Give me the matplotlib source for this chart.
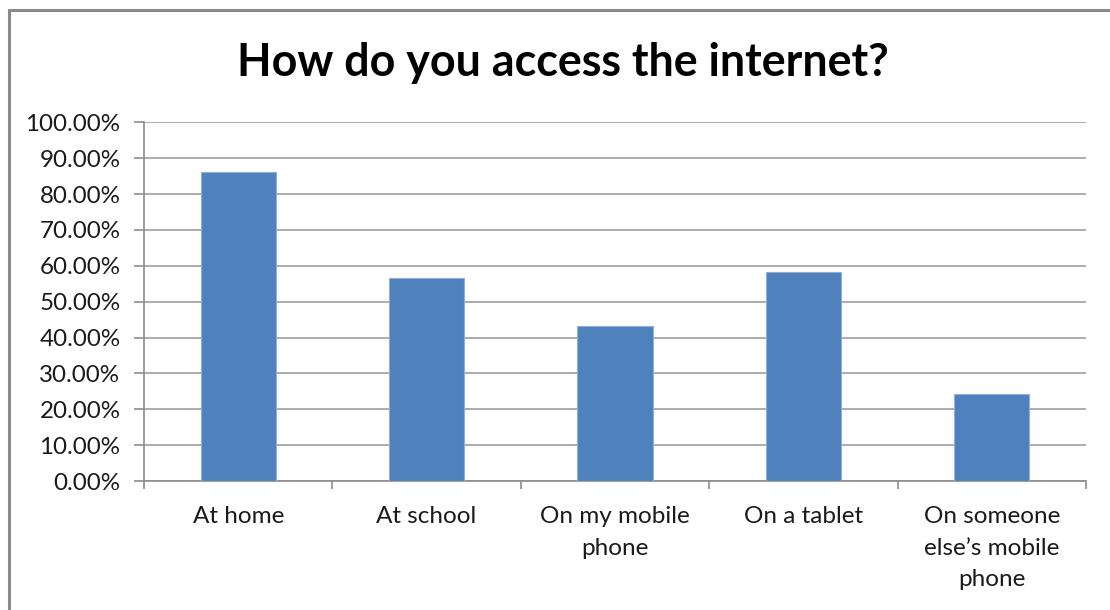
import matplotlib
matplotlib.use("Agg")
import matplotlib.pyplot as plt
from matplotlib.patches import Rectangle
from matplotlib.ticker import FuncFormatter, MultipleLocator

# Survey answers: share of respondents per access method
categories = ["At home", "At school", "On my mobile\nphone", "On a tablet",
              "On someone\nelse\u2019s mobile\nphone"]
shares = [86.2, 56.5, 43.3, 58.3, 24.2]
title = "How do you access the internet?"

W, H, DPI = 1110, 610, 100
fig = plt.figure(figsize=(W / DPI, H / DPI), dpi=DPI)
fig.patch.set_facecolor("white")

# chart frame (runs off the right and bottom edges)
fig.patches.append(Rectangle((9 / W, -0.05), 1.2, 1 - 10 / H + 0.05,
                             transform=fig.transFigure, fill=False,
                             edgecolor="#8a8a8a", linewidth=2.2, zorder=0))

ax = fig.add_axes([144 / W, 1 - 481 / H, (1086 - 144) / W, (481 - 122.3) / H])
x = range(len(categories))
ax.bar(x, shares, width=0.4, color="#4F81BD", edgecolor="#8fb0d8",
       linewidth=0.8, zorder=3)

ax.set_xlim(-0.5, len(categories) - 0.5)
ax.set_ylim(0, 100)
ax.yaxis.set_major_locator(MultipleLocator(10))
ax.yaxis.set_major_formatter(FuncFormatter(lambda v, _: f"{v:.2f}%"))
ax.grid(axis="y", color="#a6a6a6", linewidth=1.3, zorder=0)

for s in ("top", "right"):
    ax.spines[s].set_visible(False)
for s in ("left", "bottom"):
    ax.spines[s].set_color("#8c8c8c")
    ax.spines[s].set_linewidth(1.2)

ax.set_xticks([i - 0.5 for i in range(len(categories) + 1)], minor=False)
ax.set_xticklabels([])
ax.set_xticks(list(x), minor=True)
ax.set_xticklabels(categories, minor=True, fontsize=17.5, family="Lato",
                   color="#1a1a1a", linespacing=1.63, va="top")
ax.tick_params(axis="x", which="major", length=6, width=1.2, color="#8c8c8c",
               direction="out")
ax.tick_params(axis="x", which="minor", length=0, pad=18)
ax.tick_params(axis="y", length=7, width=1.2, color="#8c8c8c",
               direction="out", pad=10, labelsize=17.4, labelcolor="#1a1a1a")
for lbl in ax.get_yticklabels():
    lbl.set_family("Lato")

fig.text(563 / W, 1 - 76 / H, title, ha="center", va="baseline",
         fontsize=32.3, fontweight="bold", family="Lato", color="black")

fig.savefig("out.png", dpi=DPI, facecolor="white")
